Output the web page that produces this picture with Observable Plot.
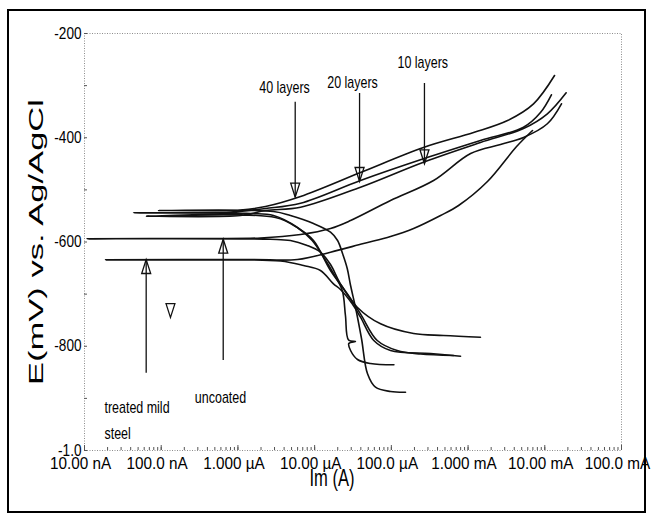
<!DOCTYPE html>
<html>
<head>
<meta charset="utf-8">
<script src="https://cdn.jsdelivr.net/npm/d3@7"></script>
<script src="https://cdn.jsdelivr.net/npm/@observablehq/plot@0.6"></script>
<style>
  body { margin: 0; background: #fff; }
  #chart { position: relative; width: 652px; height: 516px; }
  #chart .border { position: absolute; left: 7px; top: 9px; width: 635px; height: 500px; border: 2px solid #000; pointer-events: none; }
  #chart svg { position: absolute; left: 0; top: 0; }
</style>
</head>
<body>
<div id="chart"><div class="border"></div></div>
<script>
// Tafel (potentiodynamic polarization) scans, [current (A), potential (mV vs Ag/AgCl)],
// listed in scan order: cathodic end -> corrosion potential -> anodic end.
const uncoated = [
  [1.45e-3, -782.6], [4.79e-4, -779.4], [1.95e-4, -775.6], [7.23e-5, -757.0],
  [3.59e-5, -725.1], [2.17e-5, -680.2], [1.61e-5, -643.2], [1.19e-5, -619.6],
  [8.0e-6, -606.7], [4.84e-6, -597.1], [2.66e-6, -594.8], [1.08e-8, -593.9],
  [3.25e-7, -593.3], [1.97e-6, -592.3], [6.55e-6, -585.6], [1.61e-5, -574.1],
  [2.94e-5, -558.8], [9.75e-5, -520.4], [3.55e-4, -482.0], [1.08e-3, -430.2],
  [2.65e-3, -413.0], [5.28e-3, -399.5], [1.08e-2, -373.2], [1.65e-2, -334.9]
];
const treatedSteel = [
  [7.98e-4, -819.1], [3.24e-4, -813.9], [9.75e-5, -808.2], [5.90e-5, -789.0],
  [3.96e-5, -744.3], [3.09e-5, -718.6], [2.17e-5, -691.1], [1.76e-5, -680.2],
  [1.19e-5, -654.7], [7.16e-6, -645.1], [3.59e-6, -636.5], [3.25e-7, -634.5],
  [1.88e-8, -634.2], [1.46e-6, -633.6], [5.98e-6, -633.6], [1.61e-5, -619.6],
  [4.34e-5, -602.9], [9.75e-5, -589.5], [1.95e-4, -574.1], [4.38e-4, -549.2],
  [7.52e-4, -530.0], [1.79e-3, -484.0], [4.29e-3, -416.9], [6.92e-3, -386.1]
];
const layers40 = [
  [1.53e-4, -888.2], [9.75e-5, -886.8], [6.21e-5, -878.6], [4.89e-5, -852.9],
  [4.08e-5, -785.1], [3.41e-5, -725.7], [2.94e-5, -683.5], [2.66e-5, -650.8],
  [2.31e-5, -622.1], [1.99e-5, -597.1], [1.61e-5, -581.2], [9.66e-6, -564.5],
  [4.84e-6, -549.2], [2.91e-6, -541.5], [9.23e-8, -539.6], [1.08e-6, -538.6],
  [2.29e-6, -531.9], [6.55e-6, -512.7], [3.96e-5, -466.7], [2.62e-4, -418.7],
  [1.18e-3, -389.9], [3.27e-3, -366.9], [7.13e-3, -334.9], [1.34e-2, -280.6]
];
const layers20 = [
  [1.08e-4, -835.6], [5.35e-5, -833.1], [3.62e-5, -825.4], [2.94e-5, -808.2],
  [2.79e-5, -794.7], [3.41e-5, -790.9], [2.77e-5, -788.0], [2.52e-5, -741.0],
  [2.29e-5, -693.1], [1.76e-5, -660.4], [1.31e-5, -629.2], [9.29e-6, -597.1],
  [5.98e-6, -572.2], [2.91e-6, -549.2], [1.46e-6, -545.3], [4.36e-8, -544.0],
  [8.0e-7, -542.4], [2.29e-6, -535.7], [6.55e-6, -525.6], [3.96e-5, -482.0],
  [2.62e-4, -440.4], [1.45e-3, -405.3], [5.28e-3, -379.8], [8.79e-3, -351.6],
  [1.22e-2, -317.6]
];
const layers10 = [
  [6.46e-4, -817.8], [2.40e-4, -814.9], [1.19e-4, -808.2], [6.55e-5, -789.0],
  [3.96e-5, -737.8], [2.66e-5, -699.4], [1.61e-5, -654.7], [9.66e-6, -597.1],
  [6.17e-6, -574.1], [3.09e-6, -553.0], [6.43e-8, -550.5], [1.08e-6, -549.2],
  [2.29e-6, -539.6], [6.55e-6, -533.2], [3.96e-5, -494.9], [2.62e-4, -446.9],
  [1.45e-3, -409.1], [5.28e-3, -382.3], [1.08e-2, -354.1], [1.90e-2, -313.8]
];

// Axis ticks and their printed labels
const currentTicks = [1e-8, 1e-7, 1e-6, 1e-5, 1e-4, 1e-3, 1e-2, 1e-1];
const currentTickLabels = ["10.00 nA", "100.0 nA", "1.000 µA", "10.00 µA", "100.0 µA", "1.000 mA", "10.00 mA", "100.0 mA"];
const potentialTicks = [-200, -400, -600, -800, -1000];
const potentialTickLabels = ["-200", "-400", "-600", "-800", "-1.0"];
const currentTitle = "Im (A)";
const potentialTitle = "E(mV) vs. Ag/AgCl";

// Annotation arrows (current, arrow tip and tail potentials)
const arrowsUp = [
  {sample: "treated mild steel", current: 6.37e-8, tip: -633.6, tail: -851.7},
  {sample: "uncoated", current: 6.43e-7, tip: -594.6, tail: -827.3}
];
const arrowsDown = [
  {sample: "40 layers", current: 5.58e-6, tip: -514.1, tail: -331.8},
  {sample: "20 layers", current: 3.85e-5, tip: -483.9, tail: -315.1},
  {sample: "10 layers", current: 2.70e-4, tip: -450.0, tail: -295.9}
];
const looseMarker = [{current: 1.32e-7, potential: -744.9}];

// Annotation labels
const labelsCentered = [
  {text: "40 layers", current: 4.05e-6, potential: -303.6},
  {text: "20 layers", current: 3.12e-5, potential: -295.0},
  {text: "10 layers", current: 2.57e-4, potential: -257.2},
  {text: "uncoated", current: 5.93e-7, potential: -898.3}
];
const labelsLeft = [
  {text: "treated mild", current: 1.82e-8, potential: -917.5},
  {text: "steel", current: 1.82e-8, potential: -967.4}
];

const samples = [
  ["uncoated", uncoated],
  ["treated mild steel", treatedSteel],
  ["40 layers", layers40],
  ["20 layers", layers20],
  ["10 layers", layers10]
];
const scans = samples.flatMap(([sample, pts]) =>
  pts.map(([current, potential]) => ({sample, current, potential})));

const minorCurrent = d3.scaleLog().domain([1e-8, 1e-1]).ticks();
const minorPotential = d3.range(-1000, -199, 100);

// Hollow arrowheads with the tip at the anchor point
const headUp = {draw(ctx) { ctx.moveTo(0, 0); ctx.lineTo(-4.5, 14); ctx.lineTo(4.5, 14); ctx.closePath(); }};
const headDown = {draw(ctx) { ctx.moveTo(0, 0); ctx.lineTo(-4.5, -14); ctx.lineTo(4.5, -14); ctx.closePath(); }};

const sans = "'Liberation Sans', Arial, Helvetica, sans-serif";
const ink = "#111";

const chart = Plot.plot({
  width: 652,
  height: 516,
  marginLeft: 84,
  marginRight: 31,
  marginTop: 33,
  marginBottom: 66,
  style: {fontFamily: sans, fontSize: "16px", color: "#000", background: "transparent", overflow: "visible"},
  x: {type: "log", domain: [1e-8, 1e-1], label: null},
  y: {domain: [-1000, -200], label: null},
  marks: [
    Plot.frame({stroke: "#8c8c8c", strokeDasharray: "1,1.5"}),
    Plot.axisX({ticks: minorCurrent, tickSize: -3, fill: "none", stroke: "#555", label: null}),
    Plot.axisX({ticks: currentTicks, tickSize: -5, fill: "none", stroke: "#555", label: null}),
    Plot.axisX({ticks: currentTicks, tickSize: 0, tickPadding: 6, fontSize: 17, dx: -4, label: null,
      tickFormat: d => currentTickLabels[currentTicks.indexOf(d)]}),
    Plot.axisY({ticks: minorPotential, tickSize: -3, fill: "none", stroke: "#555", label: null}),
    Plot.axisY({ticks: potentialTicks, tickSize: 0, tickPadding: 3, fontSize: 16, label: null,
      tickFormat: d => potentialTickLabels[potentialTicks.indexOf(d)]}),
    Plot.line(scans, {x: "current", y: "potential", z: "sample", stroke: ink, strokeWidth: 1.6, curve: "catmull-rom"}),
    Plot.ruleX(arrowsUp, {x: "current", y1: "tip", y2: "tail", stroke: ink, strokeWidth: 1.3}),
    Plot.ruleX(arrowsDown, {x: "current", y1: "tip", y2: "tail", stroke: ink, strokeWidth: 1.3}),
    Plot.dot(arrowsUp, {x: "current", y: "tip", symbol: headUp, fill: "none", stroke: ink, strokeWidth: 1.3}),
    Plot.dot(arrowsDown, {x: "current", y: "tip", symbol: headDown, fill: "none", stroke: ink, strokeWidth: 1.3}),
    Plot.dot(looseMarker, {x: "current", y: "potential", symbol: headDown, fill: "none", stroke: ink, strokeWidth: 1.2}),
    Plot.text(labelsCentered, {x: "current", y: "potential", text: "text", fontSize: 16}),
    Plot.text(labelsLeft, {x: "current", y: "potential", text: "text", fontSize: 16, textAnchor: "start"}),
    Plot.text([currentTitle], {text: d => d, frameAnchor: "bottom", textAnchor: "middle", dx: -21, dy: 35, fontSize: 23}),
    Plot.text([potentialTitle], {text: d => d, frameAnchor: "left", textAnchor: "middle", rotate: -90, dx: -48, fontSize: 21})
  ]
});

document.getElementById("chart").appendChild(chart);

// Horizontal squeeze per text group: narrow face for ticks and notes, wide face for the E title
const squeeze = new Map([
  ...currentTickLabels.map(t => [t, 0.9]),
  ...potentialTickLabels.map(t => [t, 0.85]),
  ...labelsCentered.map(d => [d.text, 0.78]),
  ...labelsLeft.map(d => [d.text, 0.78]),
  [currentTitle, 0.72]
]);
d3.select(chart).selectAll("text").each(function () {
  const t = this.textContent;
  let r = squeeze.get(t);
  if (t === potentialTitle) r = 286 / this.getComputedTextLength();
  if (r == null) return;
  const x = +this.getAttribute("x") || 0;
  const prev = this.getAttribute("transform") || "";
  this.setAttribute("transform", `${prev} translate(${x},0) scale(${r},1) translate(${-x},0)`);
});
</script>
</body>
</html>
